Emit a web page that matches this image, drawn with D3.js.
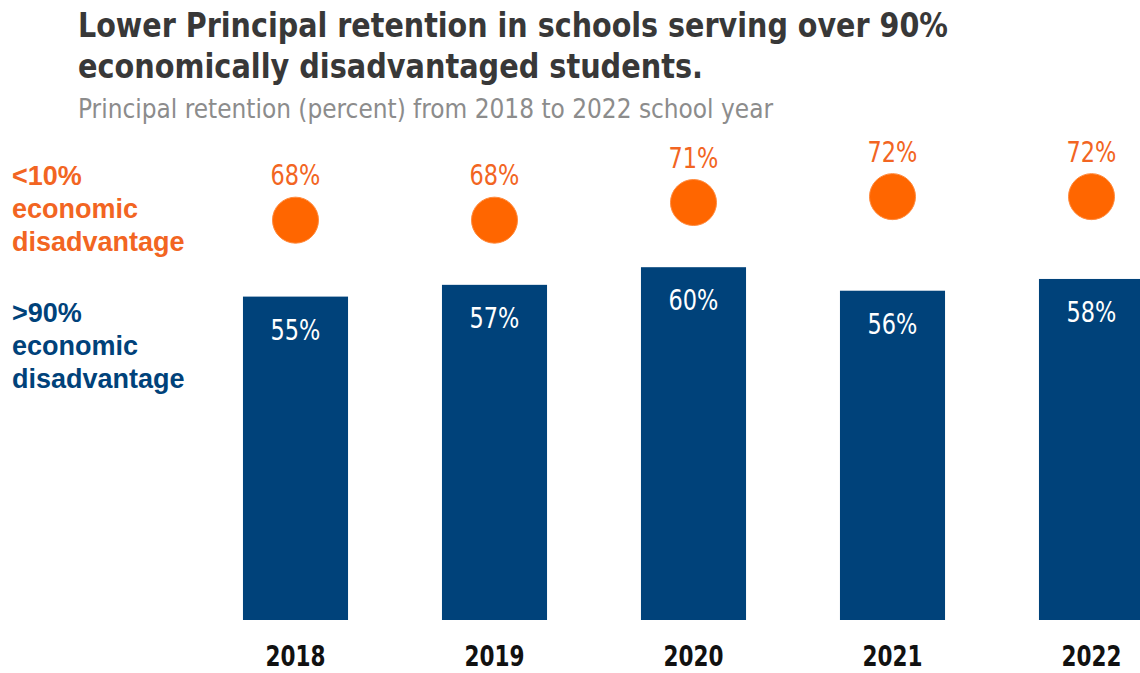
<!DOCTYPE html>
<html>
<head>
<meta charset="utf-8">
<script src="https://cdn.jsdelivr.net/npm/d3@7"></script>
<style>
  html, body { margin: 0; padding: 0; background: #fff; }
  svg { display: block; }
  .narrow { font-family: "Liberation Sans Narrow", "DejaVu Sans Condensed", "Roboto Condensed", sans-serif; }
</style>
</head>
<body>
<svg id="chart" width="1140" height="673"></svg>
<script>
// School years and principal retention (percent)
const years = ["2018", "2019", "2020", "2021", "2022"];
const highDisadvantage = [55, 57, 60, 56, 58];   // >90% economic disadvantage (bars)
const lowDisadvantage = [68, 68, 71, 72, 72];    // <10% economic disadvantage (dots)

const titleLines = [
  "Lower Principal retention in schools serving over 90%",
  "economically disadvantaged students."
];
const subtitle = "Principal retention (percent) from 2018 to 2022 school year";
const lowLabel = ["<10%", "economic", "disadvantage"];
const highLabel = [">90%", "economic", "disadvantage"];

const blue = "#00427a";
const orange = "#ff6600";
const orangeText = "#f26522";

const svg = d3.select("#chart");

const x = d3.scaleBand()
  .domain(years)
  .range([196, 1191])
  .paddingInner(0.472)
  .paddingOuter(0.236);

const y = d3.scaleLinear()
  .domain([0, 100])
  .range([620, 32]);

const cx = d => x(d.yr) + x.bandwidth() / 2;

// Title and subtitle
const titleWidths = [870, 625];
titleLines.forEach((t, i) => {
  svg.append("text")
    .attr("class", "narrow")
    .attr("x", 78).attr("y", 37 + i * 41)
    .attr("font-size", 33).attr("font-weight", "bold")
    .attr("fill", "#383838")
    .attr("textLength", titleWidths[i])
    .attr("lengthAdjust", "spacingAndGlyphs")
    .text(t);
});
svg.append("text")
  .attr("class", "narrow")
  .attr("x", 78).attr("y", 118)
  .attr("font-size", 27)
  .attr("fill", "#8c8c8c")
  .attr("textLength", 695)
  .attr("lengthAdjust", "spacingAndGlyphs")
  .text(subtitle);

// Series legends on the left
function legend(lines, top, color) {
  lines.forEach((t, i) => {
    svg.append("text")
      .attr("x", 12).attr("y", top + i * 33)
      .attr("font-family", "Liberation Sans, Arial, sans-serif")
      .attr("font-size", 27).attr("font-weight", "bold")
      .attr("fill", color)
      .text(t);
  });
}
legend(lowLabel, 185, orangeText);
legend(highLabel, 322, blue);

const rows = years.map((yr, i) => ({ yr, hi: highDisadvantage[i], lo: lowDisadvantage[i] }));

// Bars (>90%)
svg.append("g").selectAll("rect")
  .data(rows).join("rect")
  .attr("x", d => x(d.yr))
  .attr("y", d => y(d.hi))
  .attr("width", x.bandwidth())
  .attr("height", d => y(0) - y(d.hi))
  .attr("fill", blue);

svg.append("g").selectAll("text")
  .data(rows).join("text")
  .attr("class", "narrow")
  .attr("transform", d => `translate(${cx(d)},${y(d.hi) + 43}) scale(0.86,1)`)
  .attr("text-anchor", "middle")
  .attr("font-size", 29)
  .attr("fill", "#fff")
  .text(d => d.hi + "%");

// Dots (<10%)
svg.append("g").selectAll("circle")
  .data(rows).join("circle")
  .attr("cx", cx)
  .attr("cy", d => y(d.lo))
  .attr("r", 23)
  .attr("fill", orange)
  .attr("stroke", "#ff8a3d")
  .attr("stroke-width", 1);

svg.append("g").selectAll("text")
  .data(rows).join("text")
  .attr("class", "narrow")
  .attr("transform", d => `translate(${cx(d)},${y(d.lo) - 35}) scale(0.86,1)`)
  .attr("text-anchor", "middle")
  .attr("font-size", 29)
  .attr("fill", orangeText)
  .text(d => d.lo + "%");

// Year axis
const axis = svg.append("g")
  .attr("transform", `translate(0,${y(0)})`)
  .call(d3.axisBottom(x).tickSize(0).tickPadding(26));
axis.select(".domain").remove();
axis.selectAll("text")
  .attr("class", "narrow")
  .attr("font-size", 28)
  .attr("font-weight", "bold")
  .attr("fill", "#111")
  .attr("textLength", 60)
  .attr("lengthAdjust", "spacingAndGlyphs");
</script>
</body>
</html>
